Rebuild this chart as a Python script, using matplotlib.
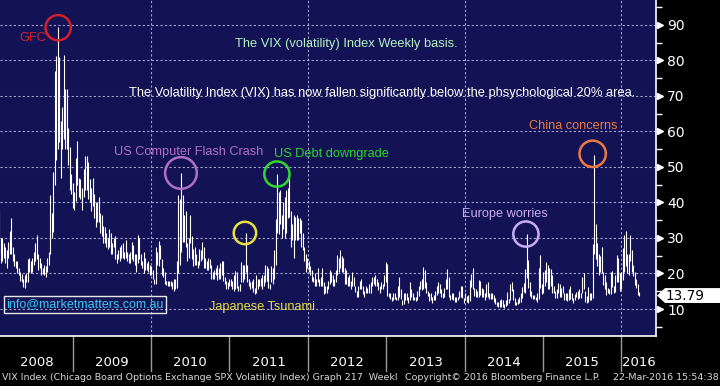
import matplotlib
matplotlib.use("Agg")
import matplotlib.pyplot as plt
import pandas as pd
from matplotlib.patches import Polygon
from matplotlib import transforms

# weekly VIX high / low, weeks ending Friday, from 25-Jan-2008
hi_2008 = [37.6, 29.9, 30.0, 28.5, 27.5, 26.5, 29.0, 32.0, 35.6, 27.5, 25.5, 23.5, 23.5, 21.5,
           20.5, 19.8, 18.5, 19.5, 20.0, 24.0, 24.5, 23.5, 24.5, 26.0, 28.5, 30.8, 25.5, 24.5,
           23.0, 21.5, 22.5, 22.0, 24.5, 26.0, 42.2, 37.0, 48.5, 76.9, 81.2, 89.5, 81.0, 63.0,
           67.0, 81.5, 72.0, 72.0, 61.0, 55.5, 48.0]
lo_2008 = [25.5, 23.0, 23.5, 24.5, 23.0, 21.5, 24.5, 25.5, 25.5, 23.5, 22.0, 21.5, 20.0, 19.5,
           17.8, 17.5, 16.3, 15.8, 17.5, 17.5, 20.5, 20.0, 20.5, 22.5, 23.5, 24.0, 21.0, 21.5,
           19.5, 19.8, 19.5, 19.0, 20.5, 22.5, 25.5, 30.0, 31.7, 45.0, 52.0, 55.0, 57.0, 47.0,
           55.0, 58.0, 55.0, 55.0, 50.5, 43.5, 42.5]
hi_2009 = [45.5, 43.0, 52.5, 57.4, 47.0, 46.5, 44.0, 49.5, 53.0, 53.2, 51.5, 46.5, 44.0, 47.0,
           42.5, 40.0, 40.0, 41.5, 37.0, 36.5, 33.5, 33.0, 31.5, 30.0, 32.5, 31.5, 28.5, 30.0,
           30.5, 25.5, 26.5, 27.5, 28.0, 28.5, 26.0, 29.5, 26.0, 25.5, 26.0, 29.0, 28.0, 25.5,
           25.5, 30.7, 30.0, 25.5, 23.5, 26.0, 24.5, 23.0, 23.5, 22.5]
lo_2009 = [38.5, 38.0, 40.5, 45.0, 41.5, 41.0, 38.0, 41.5, 43.5, 43.5, 41.0, 40.0, 37.5, 39.0,
           35.5, 33.0, 34.5, 34.5, 31.5, 30.5, 28.5, 28.5, 27.5, 27.0, 27.5, 25.5, 25.5, 27.5,
           24.0, 23.0, 24.0, 23.5, 24.5, 24.5, 24.0, 24.5, 23.5, 23.0, 23.0, 24.0, 23.5, 22.5,
           20.5, 23.0, 24.0, 22.5, 21.5, 20.0, 21.0, 21.0, 20.5, 19.5]
hi_2010 = [22.0, 21.0, 18.5, 27.5, 26.0, 29.2, 28.0, 24.0, 21.5, 20.5, 18.0, 18.0, 18.0, 18.0,
           17.5, 18.5, 18.5, 23.5, 42.1, 41.0, 48.2, 42.0, 36.5, 37.5, 28.5, 30.0, 36.5, 30.5,
           27.0, 27.5, 25.5, 23.5, 27.0, 26.5, 29.0, 27.5, 24.5, 23.5, 24.5, 24.0, 22.5, 20.5,
           21.0, 21.5, 22.5, 21.5, 23.0, 23.5, 23.5, 19.0, 18.0, 17.5, 18.5]
lo_2010 = [19.5, 18.4, 17.0, 17.0, 22.5, 22.0, 24.0, 19.5, 19.0, 17.0, 16.8, 16.5, 16.5, 16.5,
           15.6, 15.2, 15.5, 16.0, 20.0, 22.5, 26.0, 29.0, 29.0, 27.5, 23.5, 24.5, 28.5, 24.0,
           22.0, 22.5, 22.5, 21.5, 22.5, 23.5, 24.0, 21.5, 21.5, 21.0, 21.0, 21.5, 18.5, 18.5,
           18.5, 19.5, 18.2, 18.5, 18.5, 19.5, 18.0, 17.0, 15.5, 15.5, 16.5]
hi_2011 = [18.5, 18.0, 19.5, 20.8, 20.5, 16.5, 17.0, 23.2, 22.5, 22.5, 31.3, 22.5, 18.5, 17.5,
           18.0, 18.5, 16.0, 19.5, 18.5, 18.5, 18.7, 19.5, 19.5, 22.5, 22.0, 21.5, 17.0, 22.0,
           21.5, 26.5, 35.4, 48.0, 43.0, 43.5, 36.5, 40.0, 41.5, 43.5, 44.0, 46.9, 37.5, 34.0,
           36.5, 36.0, 36.5, 35.5, 35.5, 35.0, 31.5, 27.5, 25.5, 24.5]
lo_2011 = [16.5, 15.5, 15.0, 15.5, 15.8, 15.2, 15.0, 17.5, 17.5, 18.5, 20.5, 17.5, 16.5, 15.5,
           15.8, 14.8, 14.3, 14.5, 15.5, 16.5, 16.5, 15.5, 16.5, 17.5, 18.0, 16.0, 15.5, 17.5,
           17.0, 18.5, 22.5, 31.5, 31.0, 34.0, 30.0, 32.5, 30.0, 31.5, 35.5, 36.0, 27.5, 29.5,
           24.5, 29.5, 29.5, 29.5, 31.5, 27.5, 26.5, 23.5, 20.5, 21.5]
hi_2012 = [23.5, 22.0, 21.0, 19.0, 20.0, 18.5, 21.5, 18.5, 19.0, 21.5, 17.5, 16.5, 16.5, 18.0,
           21.0, 20.5, 19.5, 18.5, 21.0, 25.1, 24.5, 26.7, 25.0, 24.5, 21.5, 21.0, 19.0, 19.5,
           18.0, 20.5, 19.0, 16.5, 15.0, 16.5, 18.0, 18.5, 16.5, 15.0, 16.5, 16.0, 17.0, 17.5,
           19.0, 19.0, 19.5, 18.5, 17.5, 16.5, 17.5, 17.0, 19.5, 23.2]
lo_2012 = [20.5, 19.5, 18.0, 17.5, 16.5, 16.5, 17.5, 16.5, 16.5, 16.5, 14.3, 14.5, 14.5, 15.5,
           17.0, 17.5, 16.5, 16.5, 17.5, 19.5, 20.5, 21.5, 20.5, 20.5, 17.0, 17.0, 16.5, 16.5,
           15.5, 16.5, 16.5, 14.7, 13.3, 13.5, 15.5, 15.5, 14.2, 13.3, 14.5, 14.5, 14.5, 14.5,
           16.5, 17.0, 16.5, 16.5, 15.3, 14.5, 15.5, 15.5, 16.5, 17.5]
hi_2013 = [22.7, 14.5, 14.5, 13.5, 14.5, 14.6, 13.5, 16.5, 18.9, 15.5, 12.5, 14.5, 14.5, 14.5,
           13.5, 17.5, 15.5, 14.5, 13.5, 13.5, 15.0, 16.5, 18.0, 18.5, 21.9, 21.0, 17.5, 15.0,
           14.5, 14.5, 13.5, 14.0, 15.0, 16.5, 17.6, 17.0, 15.5, 14.5, 16.0, 18.5, 21.3, 19.0,
           14.0, 14.5, 14.5, 13.5, 13.5, 13.5, 15.0, 16.5, 16.5, 13.0]
lo_2013 = [13.8, 13.3, 12.9, 12.3, 12.5, 12.7, 12.4, 12.6, 13.5, 12.8, 11.1, 11.5, 12.5, 12.5,
           11.8, 12.5, 13.5, 12.6, 12.5, 12.3, 12.5, 13.8, 15.5, 15.4, 15.5, 16.0, 14.5, 13.8,
           12.3, 12.4, 11.8, 12.5, 12.5, 14.0, 14.5, 14.5, 13.5, 13.0, 13.5, 15.5, 15.5, 13.5,
           12.5, 12.8, 12.5, 12.0, 11.9, 12.5, 13.0, 13.5, 13.0, 11.7]
hi_2014 = [14.5, 13.8, 13.9, 18.2, 19.8, 21.5, 16.0, 15.5, 15.0, 18.2, 17.9, 16.0, 15.5, 14.5,
           17.1, 17.6, 14.5, 14.5, 14.6, 14.0, 13.0, 11.9, 12.0, 12.5, 12.9, 12.4, 11.5, 12.6,
           14.9, 12.9, 17.1, 17.6, 15.5, 13.0, 12.1, 12.9, 13.5, 14.4, 16.2, 17.2, 21.2, 31.1,
           23.7, 17.5, 15.0, 14.0, 14.0, 13.5, 14.5, 21.5, 25.2, 17.0]
lo_2014 = [12.8, 12.1, 11.8, 12.3, 16.2, 15.6, 13.6, 13.5, 13.5, 13.5, 14.0, 13.5, 13.5, 12.6,
           13.5, 13.4, 12.9, 12.9, 12.9, 11.9, 11.5, 10.9, 10.7, 10.7, 10.6, 10.5, 10.3, 10.8,
           11.0, 11.6, 12.4, 15.0, 12.4, 11.2, 11.0, 11.5, 11.8, 12.1, 13.0, 14.7, 14.5, 18.7,
           16.0, 13.8, 13.0, 12.8, 12.8, 12.5, 11.9, 12.8, 15.8, 14.3]
hi_2015 = [20.5, 21.1, 23.3, 22.5, 21.5, 21.2, 19.5, 16.4, 15.0, 15.5, 17.3, 17.0, 16.0, 16.5,
           14.5, 14.5, 14.5, 15.5, 16.4, 14.5, 13.2, 14.2, 14.9, 15.2, 15.7, 14.5, 19.0, 20.0,
           15.0, 13.8, 16.3, 14.5, 14.5, 28.4, 53.3, 33.9, 28.5, 25.5, 25.0, 27.4, 20.5, 19.5,
           17.5, 16.0, 15.5, 20.5, 20.7, 16.5, 19.5, 25.3, 24.5, 20.0]
lo_2015 = [14.5, 16.5, 17.5, 15.5, 15.5, 16.5, 14.5, 14.6, 13.0, 13.0, 14.5, 13.5, 13.5, 14.5,
           12.6, 12.5, 12.3, 12.5, 12.8, 12.6, 11.8, 12.4, 13.3, 12.8, 13.1, 13.0, 14.5, 15.5,
           11.9, 11.8, 12.1, 12.4, 12.6, 13.0, 25.5, 24.0, 22.0, 19.5, 20.5, 20.2, 16.8, 15.5,
           14.0, 14.5, 14.2, 14.3, 16.2, 14.5, 14.8, 17.5, 17.6, 15.2]
hi_2016 = [20.5, 27.1, 30.9, 32.1, 25.5, 25.5, 30.9, 26.5, 22.5, 20.5, 18.5, 17.0, 14.7]
lo_2016 = [15.5, 18.2, 20.5, 22.0, 20.2, 19.5, 23.5, 20.3, 19.2, 16.8, 16.0, 14.0, 13.6]

last_close = 13.79
years = list(range(2008, 2017))
y_ticks = [10, 20, 30, 40, 50, 60, 70, 80, 90]

# (text, colour, text x/y in axes fraction, circle date, circle value, circle size)
notes = [
    ("GFC", "#d0202e", 0.050, 0.887, "2008-10-25", 89.2, 330),
    ("US Computer Flash Crash", "#b070c8", 0.287, 0.548, "2010-05-20", 48.3, 520),
    ("US Debt downgrade", "#2ed82e", 0.505, 0.542, "2011-08-10", 48.0, 330),
    ("Japanese Tsunami", "#e8e040", 0.399, 0.086, "2011-03-14", 31.4, 260),
    ("Europe worries", "#c8aef0", 0.769, 0.363, "2014-10-13", 31.1, 330),
    ("China concerns", "#ec7a40", 0.874, 0.625, "2015-08-20", 53.7, 360),
]

hi = hi_2008 + hi_2009 + hi_2010 + hi_2011 + hi_2012 + hi_2013 + hi_2014 + hi_2015 + hi_2016
lo = lo_2008 + lo_2009 + lo_2010 + lo_2011 + lo_2012 + lo_2013 + lo_2014 + lo_2015 + lo_2016
weeks = pd.date_range("2008-01-25", periods=len(hi), freq="W-FRI")

navy = "#121254"
grid_c = "#a4a4d0"
sans = ["Liberation Sans", "DejaVu Sans"]
narrow = ["Liberation Sans Narrow", "DejaVu Sans"]

fig = plt.figure(figsize=(7.2, 3.86), dpi=100, facecolor="black")
ax = fig.add_axes([0, 50 / 386, 656 / 720, 336 / 386])
ax.set_facecolor(navy)

x0, x1 = pd.Timestamp("2008-01-28"), pd.Timestamp("2016-06-10")
ax.set_xlim(x0, x1)
ax.set_ylim(2.4, 97.0)

ax.vlines(weeks, lo, hi, color="white", lw=0.8, zorder=3)

# grid
for v in y_ticks:
    ax.axhline(v, color=grid_c, lw=0.8, ls=(0, (2, 2)), zorder=1)
for yr in [2010, 2012, 2014, 2016]:
    ax.axvline(pd.Timestamp(f"{yr}-01-01"), color=grid_c, lw=0.8, ls=(0, (2, 2)), zorder=1)

for s in ["top", "left"]:
    ax.spines[s].set_visible(False)
for s in ["right", "bottom"]:
    ax.spines[s].set_color("white")
    ax.spines[s].set_linewidth(1.2)

ax.tick_params(axis="x", bottom=False, labelbottom=False)
ax.yaxis.tick_right()
ax.set_yticks(y_ticks)
ax.set_yticks([5, 15, 25, 35, 45, 55, 65, 75, 85, 95], minor=True)
ax.tick_params(axis="y", which="major", length=0, pad=8, labelcolor="white", labelsize=10)
ax.tick_params(axis="y", which="minor", length=4, width=1, color="white")
for lab in ax.get_yticklabels():
    lab.set_family(narrow)
ytr = ax.get_yaxis_transform()
ax.plot([1.0065] * len(y_ticks), y_ticks, ls="none", marker=">", ms=5, color="white",
        transform=ytr, clip_on=False)

# last value tag
tag_tr = transforms.blended_transform_factory(fig.transFigure, ax.transData)
tag = Polygon([(657 / 720, last_close), (665 / 720, last_close + 2.1), (1.0, last_close + 2.1),
               (1.0, last_close - 2.1), (665 / 720, last_close - 2.1)],
              closed=True, facecolor="white", edgecolor="none", transform=tag_tr, clip_on=False)
ax.add_patch(tag)
ax.text(666 / 720, last_close, f"{last_close:.2f}", transform=tag_tr, color="black",
        fontsize=9.8, family=narrow, va="center", ha="left")

# year strip
xtr = ax.get_xaxis_transform()
for yr in years:
    a = max(pd.Timestamp(f"{yr}-01-01"), x0)
    b = min(pd.Timestamp(f"{yr + 1}-01-01"), x1)
    ax.text(a + (b - a) / 2, -0.078, str(yr), transform=xtr, color="white", fontsize=9.5,
            family=narrow, ha="center", va="center")
    if yr > 2008:
        ax.plot([pd.Timestamp(f"{yr}-01-01")] * 2, [0, -0.105], color="#9a9a9a", lw=1,
                transform=xtr, clip_on=False)

# annotations
for text, col, tx, ty, cd, cv, sz in notes:
    ax.text(tx, ty, text, transform=ax.transAxes, color=col, fontsize=9.2, family=sans,
            ha="center", va="center")
    ax.scatter([pd.Timestamp(cd)], [cv], s=sz, facecolors="none", edgecolors=col,
               linewidths=1.8, zorder=4)

ax.text(0.528, 0.869, "The VIX (volatility) Index Weekly basis.", transform=ax.transAxes,
        color="#b4f0c4", fontsize=9.3, family=sans, ha="center", va="center")
ax.text(0.582, 0.723,
        "The Volatility Index (VIX) has now fallen significantly below the phsychological 20% area.",
        transform=ax.transAxes, color="white", fontsize=9.3, family=sans, ha="center", va="center")
ax.text(0.130, 0.095, "info@marketmatters.com.au", transform=ax.transAxes, color="#3cc8f0",
        fontsize=9, family=sans, ha="center", va="center",
        bbox=dict(boxstyle="square,pad=0.2", facecolor="none", edgecolor="#e8e8e8", lw=1))

# footer
fig.text(2 / 720, 0.021, "VIX Index (Chicago Board Options Exchange SPX Volatility Index) Graph 217  Weekl",
         color="#d8d8d8", fontsize=6.8, family=narrow, ha="left", va="center")
fig.text(405 / 720, 0.021, "Copyright\u00a9 2016 Bloomberg Finance L.P.", color="#d8d8d8",
         fontsize=6.8, family=narrow, ha="left", va="center")
fig.text(719 / 720, 0.021, "22-Mar-2016 15:54:38", color="#d8d8d8", fontsize=6.8,
         family=narrow, ha="right", va="center")

fig.savefig("out.png", dpi=100, facecolor="black")
